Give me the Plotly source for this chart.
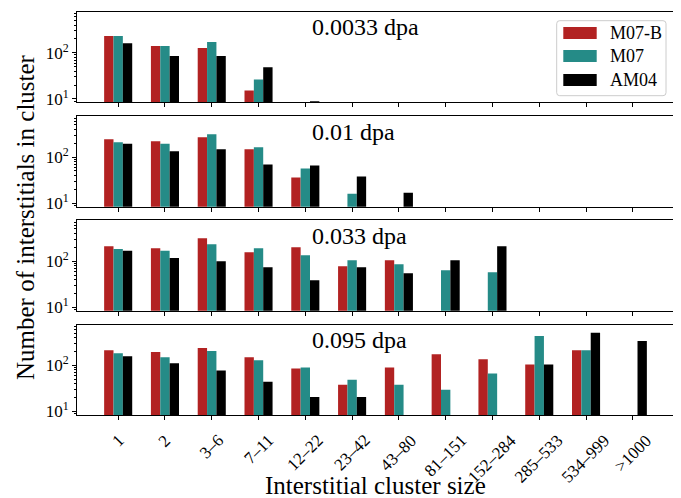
import plotly.graph_objects as go
from plotly.subplots import make_subplots

categories = ["1", "2", "3–6", "7–11", "12–22", "23–42", "43–80",
              "81–151", "152–284", "285–533", "534–999", ">1000"]
series_names = ["M07-B", "M07", "AM04"]
colors = ["#B22222", "#258B87", "#000000"]
panel_labels = ["0.0033 dpa", "0.01 dpa", "0.033 dpa", "0.095 dpa"]

# values per panel: [M07-B, M07, AM04]
p1_m07b = [232, 140, 127, 15.2, None, None, None, None, None, None, None, None]
p1_m07  = [232, 140, 172, 26.5, None, None, None, None, None, None, None, None]
p1_am04 = [161, 85, 85, 48.5, 8.9, None, None, None, None, None, None, None]

p2_m07b = [244, 220, 270, 147, 35.9, None, None, None, None, None, None, None]
p2_m07  = [209, 193, 313, 163, 56.5, 16.0, None, None, None, None, None, None]
p2_am04 = [193, 133, 147, 69, 65.8, 37.8, 16.8, None, None, None, None, None]

p3_m07b = [212, 192, 316, 157, 201, 78, 105, None, None, None, None, None]
p3_m07  = [185, 168, 234, 192, 135, 105, 86, 63.7, 57.7, None, None, None]
p3_am04 = [168, 118, 100, 74, 38.6, 74, 55, 105, 212, None, None, None]

p4_m07b = [214, 194, 237, 150, 86, 38.1, 90, 175, 136, 105, 214, None]
p4_m07  = [184, 150, 204, 129, 90, 49, 38.1, 29.5, 66.6, 436, 214, None]
p4_am04 = [158, 111, 77.6, 44.4, 20.7, 20.7, None, None, None, 105, 508, 338]

panels = [
    [p1_m07b, p1_m07, p1_am04],
    [p2_m07b, p2_m07, p2_am04],
    [p3_m07b, p3_m07, p3_am04],
    [p4_m07b, p4_m07, p4_am04],
]

FONT = "Liberation Serif"
OFF = 8  # page body margin
W, H = 681 - OFF, 498 - OFF
L, R, T, B = 77 - OFF, 7, 12 - OFF, 83
PW, PH = W - L - R, H - T - B


def px_x(px):
    return (px - OFF - L) / PW


def px_y(py):
    return (H - B - (py - OFF)) / PH


def rounded_rect(x0, y0, x1, y1, rad):
    # pixel box -> paper-coordinate SVG path with rounded corners
    X = px_x
    Y = px_y
    return (f"M {X(x0 + rad)} {Y(y0)} L {X(x1 - rad)} {Y(y0)} "
            f"Q {X(x1)} {Y(y0)} {X(x1)} {Y(y0 + rad)} "
            f"L {X(x1)} {Y(y1 - rad)} Q {X(x1)} {Y(y1)} {X(x1 - rad)} {Y(y1)} "
            f"L {X(x0 + rad)} {Y(y1)} Q {X(x0)} {Y(y1)} {X(x0)} {Y(y1 - rad)} "
            f"L {X(x0)} {Y(y0 + rad)} Q {X(x0)} {Y(y0)} {X(x0 + rad)} {Y(y0)} Z")


fig = make_subplots(rows=4, cols=1, vertical_spacing=0.034)

for r, vals in enumerate(panels, start=1):
    for name, col, v in zip(series_names, colors, vals):
        fig.add_trace(go.Bar(x=categories, y=v, name=name, marker_color=col,
                             marker_line_width=0, showlegend=False),
                      row=r, col=1)

minor_vals = [m * 10 ** e for e in range(0, 3) for m in range(2, 10)]

for r in range(1, 5):
    fig.update_xaxes(row=r, col=1, type="category", range=[-0.88, 11.88],
                     showline=True, linecolor="black", linewidth=1, mirror=True,
                     ticks="outside", ticklen=4, tickwidth=1, tickcolor="black",
                     showgrid=False, zeroline=False, showticklabels=False)
    fig.update_yaxes(row=r, col=1, type="log", range=[0.924, 2.886],
                     showline=True, linecolor="black", linewidth=1, mirror=True,
                     tickvals=[10, 100], ticktext=["10<sup>1</sup>", "10<sup>2</sup>"],
                     ticks="outside", ticklen=4, tickwidth=1, tickcolor="black",
                     minor=dict(tickvals=minor_vals, ticks="outside", ticklen=2,
                                tickwidth=1, tickcolor="black", showgrid=False),
                     showgrid=False, zeroline=False,
                     tickfont=dict(family=FONT, size=17, color="black"))
    xd = "x domain" if r == 1 else f"x{r} domain"
    yd = "y domain" if r == 1 else f"y{r} domain"
    fig.add_annotation(text=panel_labels[r - 1], xref=xd, yref=yd,
                       x=0.39, y=0.83, xanchor="left", yanchor="middle",
                       showarrow=False,
                       font=dict(family=FONT, size=24, color="black"))

# rotated category labels centred under the ticks of the bottom panel
for i, cat in enumerate(categories):
    fig.add_annotation(text=cat, xref="x4", yref="paper", x=i, y=px_y(428),
                       xanchor="center", yanchor="top", textangle=-45,
                       showarrow=False,
                       font=dict(family=FONT, size=17, color="black"))

# legend (drawn manually)
fig.add_shape(type="path", xref="paper", yref="paper",
              path=rounded_rect(556.7, 20.7, 666, 95.7, 3),
              line=dict(color="#cccccc", width=1), fillcolor="rgba(255,255,255,0.8)")
rows_y = [33, 56, 80]
for name, col, cy in zip(series_names, colors, rows_y):
    fig.add_shape(type="rect", xref="paper", yref="paper",
                  x0=px_x(563.3), x1=px_x(596.7), y0=px_y(cy + 6), y1=px_y(cy - 6),
                  line=dict(width=0), fillcolor=col)
    fig.add_annotation(text=name, xref="paper", yref="paper",
                       x=px_x(608), y=px_y(cy), xanchor="left", yanchor="middle",
                       showarrow=False, font=dict(family=FONT, size=18, color="black"))

fig.add_annotation(text="Number of interstitials in cluster", xref="paper", yref="paper",
                   x=px_x(25), y=px_y(217), textangle=-90, showarrow=False,
                   xanchor="center", yanchor="middle",
                   font=dict(family=FONT, size=25, color="black"))
fig.add_annotation(text="Interstitial cluster size", xref="paper", yref="paper",
                   x=px_x(375), y=px_y(485), showarrow=False,
                   xanchor="center", yanchor="middle",
                   font=dict(family=FONT, size=25, color="black"))

fig.update_layout(width=W, height=H, margin=dict(l=L, r=R, t=T, b=B),
                  barmode="group", bargap=0.4, bargroupgap=0,
                  plot_bgcolor="white", paper_bgcolor="white",
                  font=dict(family=FONT, color="black"), showlegend=False)

fig.write_html("out.html")
